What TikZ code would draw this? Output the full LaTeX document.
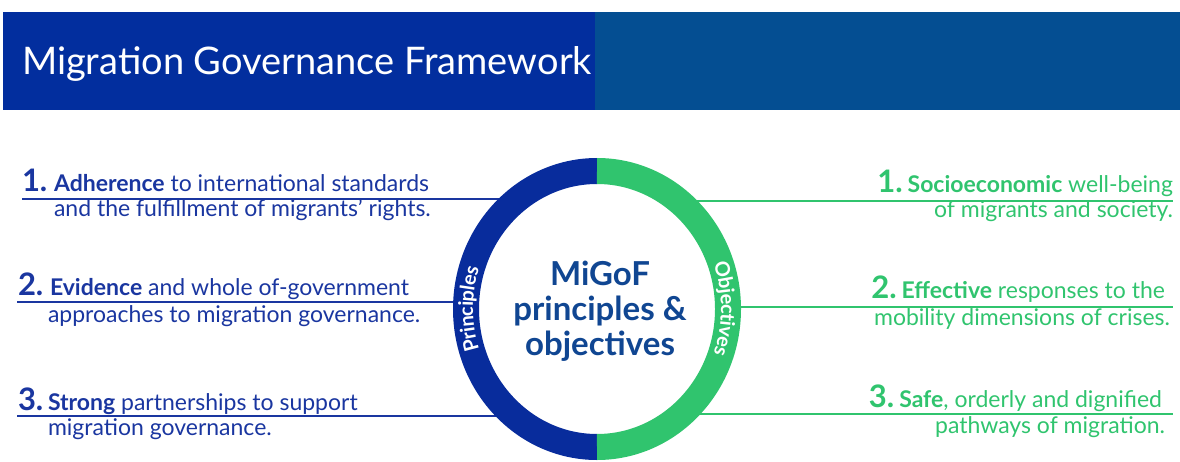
\documentclass[tikz,border=0pt]{standalone}
\usepackage{fontspec}
\setmainfont{Lato}
\usetikzlibrary{positioning,decorations.text}
\definecolor{cbarleft}{RGB}{2,46,158}
\definecolor{cbarright}{RGB}{4,78,146}
\definecolor{cpblue}{RGB}{26,54,160}
\definecolor{cringblue}{RGB}{8,44,156}
\definecolor{cogreen}{RGB}{48,196,110}
\definecolor{ccentre}{RGB}{16,70,146}

\begin{document}
\begin{tikzpicture}[x=1pt, y=1pt, inner sep=0pt, outer sep=0pt,
  numtext/.style={font=\fontsize{31}{31}\selectfont\bfseries},
  itemtext/.style={font=\fontsize{23}{23}\selectfont},
  pline/.style={line width=1.6pt},
  ringline/.style={line width=26pt}]
\useasboundingbox (0,0) rectangle (1180,461);
\coordinate (migof) at (597,152);

% title bar
\fill[cbarleft] (3,351) rectangle (595,449);
\fill[cbarright] (595,351) rectangle (1180,449);
\node[anchor=base west, text=white, font=\fontsize{38}{38}\selectfont] (title) at (22,386)
  {Migration Governance Framework};

% principles
\node[numtext, text=cpblue, anchor=base west] (p1num) at (22,269) {1.};
\node[itemtext, text=cpblue, anchor=base west] (p1a) at (54,269)
  {\textbf{Adherence} to international standards};
\node[itemtext, text=cpblue, anchor=base west] (p1b) at (54,244)
  {and the fulfillment of migrants' rights.};
\coordinate (p1s) at (22,262);

\node[numtext, text=cpblue, anchor=base west] (p2num) at (18,166) {2.};
\node[itemtext, text=cpblue, anchor=base west] (p2a) at (50,166)
  {\textbf{Evidence} and whole of-government};
\node[itemtext, text=cpblue, anchor=base west] (p2b) at (48,139)
  {approaches to migration governance.};
\coordinate (p2s) at (17,159);

\node[numtext, text=cpblue, anchor=base west] (p3num) at (18,51) {3.};
\node[itemtext, text=cpblue, anchor=base west] (p3a) at (48,51)
  {\textbf{Strong} partnerships to support};
\node[itemtext, text=cpblue, anchor=base west] (p3b) at (48,26)
  {migration governance.};
\coordinate (p3s) at (17,45);

% objectives
\node[itemtext, text=cogreen, anchor=base east] (o1a) at (1173,268)
  {\textbf{Socioeconomic} well-being};
\node[numtext, text=cogreen, base left=5pt of o1a] (o1num) {1.};
\node[itemtext, text=cogreen, anchor=base east] (o1b) at (1173,243)
  {of migrants and society.};
\coordinate (o1e) at (1173,260);

\node[itemtext, text=cogreen, anchor=base east] (o2a) at (1165,163)
  {\textbf{Effective} responses to the};
\node[numtext, text=cogreen, base left=5pt of o2a] (o2num) {2.};
\node[itemtext, text=cogreen, anchor=base east] (o2b) at (1170,136)
  {mobility dimensions of crises.};
\coordinate (o2e) at (1173,154);

\node[itemtext, text=cogreen, anchor=base east] (o3a) at (1162,54)
  {\textbf{Safe}, orderly and dignified};
\node[numtext, text=cogreen, base left=5pt of o3a] (o3num) {3.};
\node[itemtext, text=cogreen, anchor=base east] (o3b) at (1165,28)
  {pathways of migration.};
\coordinate (o3e) at (1173,47);

% connectors
\draw[cpblue, pline] (p1s) -- (p1s -| migof);
\draw[cpblue, pline] (p2s) -- (p2s -| migof);
\draw[cpblue, pline] (p3s) -- (p3s -| migof);
\draw[cogreen, pline] (migof |- o1e) -- (o1e);
\draw[cogreen, pline] (migof |- o2e) -- (o2e);
\draw[cogreen, pline] (migof |- o3e) -- (o3e);

% ring
\fill[white] (migof) ellipse [x radius=131, y radius=138];
\draw[cringblue, ringline] (migof) ++(0,138)
  arc[start angle=90, end angle=270, x radius=131, y radius=138];
\draw[cogreen, ringline] (migof) ++(0,138)
  arc[start angle=90, end angle=-90, x radius=131, y radius=138];
\path[decorate, decoration={text along path, text align=center, text color=white, raise=-7pt,
    text={|\fontsize{20}{20}\selectfont\bfseries|Principles}}]
  (migof) ++(230:131 and 138) arc[start angle=230, end angle=130, x radius=131, y radius=138];
\path[decorate, decoration={text along path, text align=center, text color=white, raise=-7pt,
    text={|\fontsize{20}{20}\selectfont\bfseries|Objectives}}]
  (migof) ++(50:131 and 138) arc[start angle=50, end angle=-50, x radius=131, y radius=138];

\node[text=ccentre, align=center, font=\fontsize{33}{35}\selectfont\bfseries] (centre)
  at (600,150) {MiGoF\\principles \&\\objectives};
\end{tikzpicture}
\end{document}
